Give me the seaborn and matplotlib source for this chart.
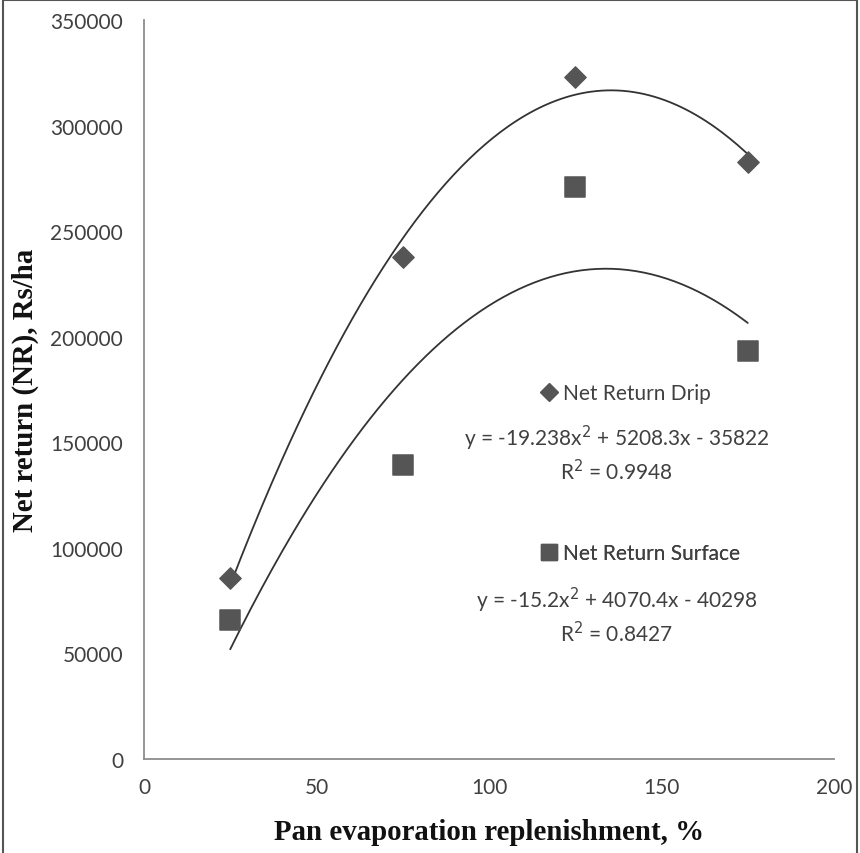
import numpy as np
import pandas as pd
import matplotlib
matplotlib.use("Agg")
import matplotlib.pyplot as plt
import seaborn as sns
from matplotlib.lines import Line2D
from matplotlib.patches import Rectangle

# data
pan_evap = [25, 75, 125, 175]
drip_nr = [85700, 237800, 323000, 282800]
surface_nr = [65800, 139200, 270900, 193200]

# trendline equations as printed on the chart
drip_coef = [-19.238, 5208.3, -35822]
surface_coef = [-15.2, 4070.4, -40298]
drip_r2 = 0.9948
surface_r2 = 0.8427

sns.set_style("white")
plt.rcParams["font.family"] = ["Lato", "DejaVu Sans"]

mark_col = "#555555"
line_col = "#333333"
txt_col = "#404040"

fig = plt.figure(figsize=(8.6, 8.54), dpi=100)
ax = fig.add_axes([0.1674, 0.1101, 0.8024, 0.8653])

pts = pd.DataFrame({"x": pan_evap, "drip": drip_nr, "surface": surface_nr})

# trendlines
xs = np.linspace(pan_evap[0], pan_evap[-1], 200)
trend = pd.DataFrame({"x": xs,
                      "drip": np.polyval(drip_coef, xs),
                      "surface": np.polyval(surface_coef, xs)})
sns.lineplot(data=trend, x="x", y="drip", ax=ax, color=line_col, lw=1.3)
sns.lineplot(data=trend, x="x", y="surface", ax=ax, color=line_col, lw=1.3)

sns.scatterplot(data=pts, x="x", y="drip", ax=ax, marker="D", s=120,
                color=mark_col, edgecolor=mark_col, zorder=3)
sns.scatterplot(data=pts, x="x", y="surface", ax=ax, marker="s", s=190,
                color=mark_col, edgecolor=mark_col, zorder=3)

ax.set_xlim(0, 200)
ax.set_ylim(0, 350000)
ax.set_xticks(np.arange(0, 201, 50))
ax.set_yticks(np.arange(0, 350001, 50000))

sns.despine(ax=ax)
for s in ["left", "bottom"]:
    ax.spines[s].set_color("#8c8c8c")
    ax.spines[s].set_linewidth(1.3)
ax.tick_params(axis="both", direction="out", length=7, width=1.3, color="#8c8c8c",
               labelsize=15, labelcolor=txt_col, pad=6)
ax.tick_params(axis="y", pad=8)

ax.set_xlabel("Pan evaporation replenishment, %", family="Liberation Serif",
              fontweight="bold", fontsize=20.8, color="#111111", labelpad=15)
ax.set_ylabel("Net return (NR), Rs/ha", family="Liberation Serif",
              fontweight="bold", fontsize=20.8, color="#111111", labelpad=8)

# legend entries, one per series, each above its equation
def series_legend(label, marker, ms, y):
    h = Line2D([], [], ls="none", marker=marker, ms=ms, color=mark_col)
    leg = ax.legend(handles=[h], labels=[label], loc="center left",
                    bbox_to_anchor=(0.573, y), frameon=False, borderpad=0,
                    borderaxespad=0, handlelength=0.9, handletextpad=0.25,
                    fontsize=15)
    for t in leg.get_texts():
        t.set_color(txt_col)
    ax.add_artist(leg)

series_legend("Net Return Drip", "D", 9, 0.495)
series_legend("Net Return Surface", "s", 12, 0.279)

def eq_text(c, r2, y):
    a, b, k = c
    s = "y = %gx$^2$ + %gx - %g\nR$^2$ = %.4f" % (a, b, -k, r2)
    ax.text(0.685, y, s, transform=ax.transAxes, ha="center", va="center",
            fontsize=15, color=txt_col, linespacing=1.3)

eq_text(drip_coef, drip_r2, 0.414)
eq_text(surface_coef, surface_r2, 0.195)

# outer frame of the figure
fig.patches.append(Rectangle((0.0035, -0.02), 0.993, 1.0188, transform=fig.transFigure,
                             fill=False, edgecolor="#555555", lw=1.5))

fig.savefig("out.png", dpi=100)
